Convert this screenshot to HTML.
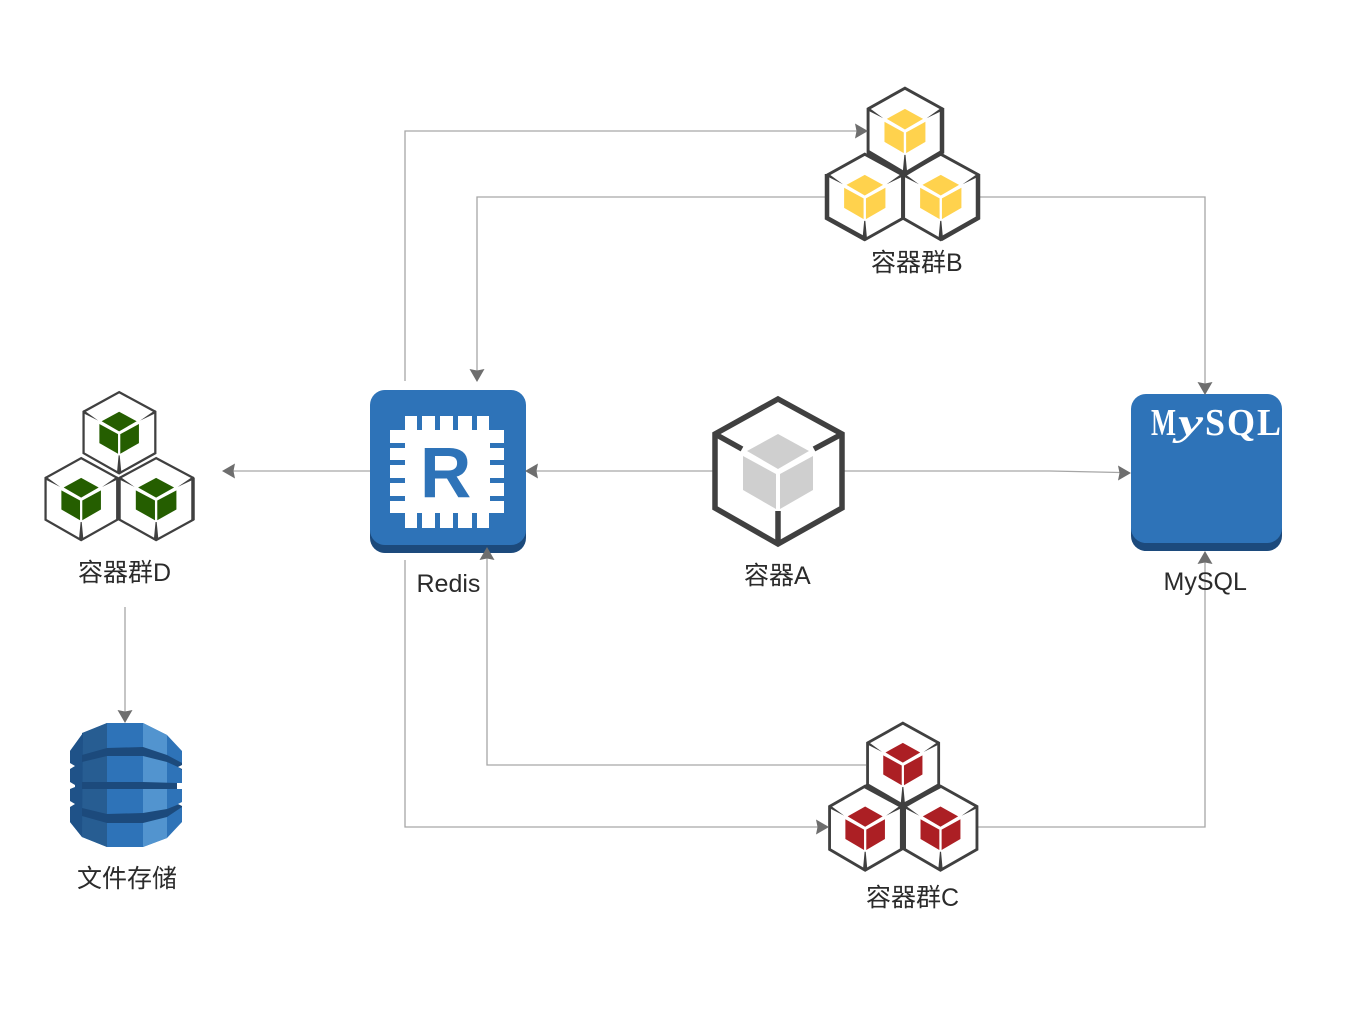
<!DOCTYPE html>
<html>
<head>
<meta charset="utf-8">
<style>
html,body{margin:0;padding:0;background:#fff}
svg{display:block}
text{font-family:"Liberation Sans","Noto Sans CJK SC",sans-serif;font-size:25px;fill:#2b2b2b}
.m{font-family:"Liberation Serif",serif;font-size:38px;font-weight:bold;fill:#fff}
.l{fill:none;stroke:#a6a6a6;stroke-width:1.3}
.a{fill:#6e6e6e}
</style>
</head>
<body>
<svg xmlns="http://www.w3.org/2000/svg" width="1366" height="1032" viewBox="0 0 1366 1032">
<defs>
<g id="f" fill="currentColor">
  <polygon points="64,37 95,54 64,72 33,54"/>
  <polygon points="29,59 62,77 62,112 29,93"/>
  <polygon points="66,77 99,59 99,93 66,112"/>
</g>
<g id="c">
  <g fill="none" stroke="#404040" stroke-linejoin="miter">
    <polygon points="64,2 128,37 128,111 64,147 1,111 1,37"/>
    <path d="M1,37L28,52M128,37L100,52M64,147L64,114"/>
  </g>
  <use href="#f"/>
</g>
<g id="g">
  <polygon points="64,2 128,37 128,111 64,147 1,111 1,37" fill="none" stroke="#404040" stroke-linejoin="miter"/>
  <path d="M1,34L1,40L27,53ZM128,34L128,40L101,53ZM60,147L68,147L65,115L63,115Z" fill="#404040"/>
  <use href="#f"/>
</g>
<path id="ar" d="M0,0L-13,-7.5L-11.5,0L-13,7.5Z"/>
</defs>

<!-- connectors -->
<path class="l" d="M405,381V131H857"/>
<path class="l" d="M828,197H477V371"/>
<path class="l" d="M978,197H1205V384"/>
<path class="l" d="M714,471H536"/>
<path class="l" d="M843,471H1050L1120,472.5"/>
<path class="l" d="M370,471H233"/>
<path class="l" d="M125,607V712"/>
<path class="l" d="M405,560V827H818"/>
<path class="l" d="M866,765H487V558"/>
<path class="l" d="M977,827H1205V562"/>

<!-- Redis -->
<rect x="370" y="400" width="156" height="153" rx="15" fill="#1c4a7c"/>
<rect x="370" y="390" width="156" height="155" rx="15" fill="#2e73b8"/>
<g fill="#fff">
<rect x="405" y="430" width="85" height="83"/>
<path d="M405,416h12v14h-12zM422,416h13v14h-13zM440,416h13v14h-13zM458,416h14v14h-14zM477,416h12v14h-12z"/>
<path d="M405,513h12v15h-12zM422,513h13v15h-13zM440,513h13v15h-13zM458,513h14v15h-14zM477,513h12v15h-12z"/>
<path d="M390,430h15v13h-15zM390,448h15v12h-15zM390,465h15v13h-15zM390,483h15v13h-15zM390,501h15v12h-15z"/>
<path d="M489,430h15v13h-15zM489,448h15v12h-15zM489,465h15v13h-15zM489,483h15v13h-15zM489,501h15v12h-15z"/>
</g>
<text x="420" y="497" style="font-size:71px;font-weight:bold;fill:#2e73b8">R</text>
<text x="416.5" y="592">Redis</text>

<!-- MySQL -->
<rect x="1131" y="404" width="151" height="147" rx="15" fill="#1c4a7c"/>
<rect x="1131" y="394" width="151" height="149" rx="15" fill="#2e73b8"/>
<text class="m" x="1151" y="435" textLength="25" lengthAdjust="spacingAndGlyphs">M</text>
<text class="m" x="1178" y="435" textLength="25" lengthAdjust="spacingAndGlyphs" font-style="italic">y</text>
<text class="m" x="1205" y="435" textLength="20" lengthAdjust="spacingAndGlyphs">S</text>
<text class="m" x="1227" y="435" textLength="28" lengthAdjust="spacingAndGlyphs">Q</text>
<text class="m" x="1257" y="435" textLength="24" lengthAdjust="spacingAndGlyphs">L</text>
<text x="1163.5" y="590">MySQL</text>

<!-- container A -->
<use href="#c" transform="translate(714,397)" stroke-width="5.5" color="#cfcfcf"/>
<text x="744" y="584">容器A</text>

<!-- group B -->
<g color="#ffd24d" stroke-width="5">
<use href="#g" transform="translate(867.5,87) scale(.585,.59)"/>
<use href="#g" transform="translate(827,153) scale(.59,.59)"/>
<use href="#g" transform="translate(903,153) scale(.59,.59)"/>
</g>
<path d="M942,108V152L905,174L868,152M827,174V218L865,239M978,174V218L941,239" fill="none" stroke="#404040" stroke-width="4.5"/>
<text x="871" y="271">容器群B</text>

<!-- group C -->
<g color="#ac1f24" stroke-width="5">
<use href="#g" transform="translate(867,722) scale(.56,.565)"/>
<use href="#g" transform="translate(829,785) scale(.565,.58)"/>
<use href="#g" transform="translate(904,785) scale(.57,.58)"/>
</g>
<path d="M865,786L902,806L940,786M902.5,806V850" fill="none" stroke="#404040" stroke-width="4.5"/>
<text x="866" y="906">容器群C</text>

<!-- group D -->
<g color="#255e00" stroke-width="4">
<use href="#g" transform="translate(83,391) scale(.565,.56)"/>
<use href="#g" transform="translate(45,457) scale(.565,.565)"/>
<use href="#g" transform="translate(119,457) scale(.58,.565)"/>
</g>
<path d="M193,478V520M118,478V520" fill="none" stroke="#404040" stroke-width="3.5"/>
<text x="78" y="581">容器群D</text>

<!-- file storage -->
<polygon points="107,723 143,723 167,735 182,751 182,822 167,838 143,847 107,847 82,837 70,822 70,751 83,733" fill="#2e73b8"/>
<polygon points="82,733 107,723 107,847 82,837" fill="#275d92"/>
<polygon points="143,723 167,735 167,838 143,847" fill="#5294cf"/>
<polygon points="83,733 70,751 70,822 82,837" fill="#1f5288"/>
<g fill="#1c4a7c">
<polygon points="82,755 107,748 143,747 167,755 182,763 182,770 178,767 167,762 143,756 107,756 82,762"/>
<polygon points="82,782 107,782 143,782 177,783 177,789 143,789 107,789 82,789"/>
<polygon points="82,808 107,814 143,813 167,809 182,803 182,807 167,817 143,823 107,823 82,816"/>
</g>
<g fill="#fff">
<polygon points="70,763 75,766 70,769"/>
<polygon points="70,782 75,785 75,787 70,789"/>
<polygon points="70,801 75,804 70,807"/>
<polygon points="182,765 178,767 182,769"/>
<polygon points="182,783 177,783 177,789 182,789"/>
<polygon points="182,802 178,804 182,806"/>
</g>
<text x="77" y="887">文件存储</text>

<!-- arrowheads -->
<g class="a">
<use href="#ar" transform="translate(868,131)"/>
<use href="#ar" transform="translate(477,382) rotate(90)"/>
<use href="#ar" transform="translate(1205,395) rotate(90)"/>
<use href="#ar" transform="translate(525,471) rotate(180)"/>
<use href="#ar" transform="translate(1131,473)"/>
<use href="#ar" transform="translate(222,471) rotate(180)"/>
<use href="#ar" transform="translate(125,723) rotate(90)"/>
<use href="#ar" transform="translate(829,827)"/>
<use href="#ar" transform="translate(487,547) rotate(-90)"/>
<use href="#ar" transform="translate(1205,551) rotate(-90)"/>
</g>
</svg>
</body>
</html>
